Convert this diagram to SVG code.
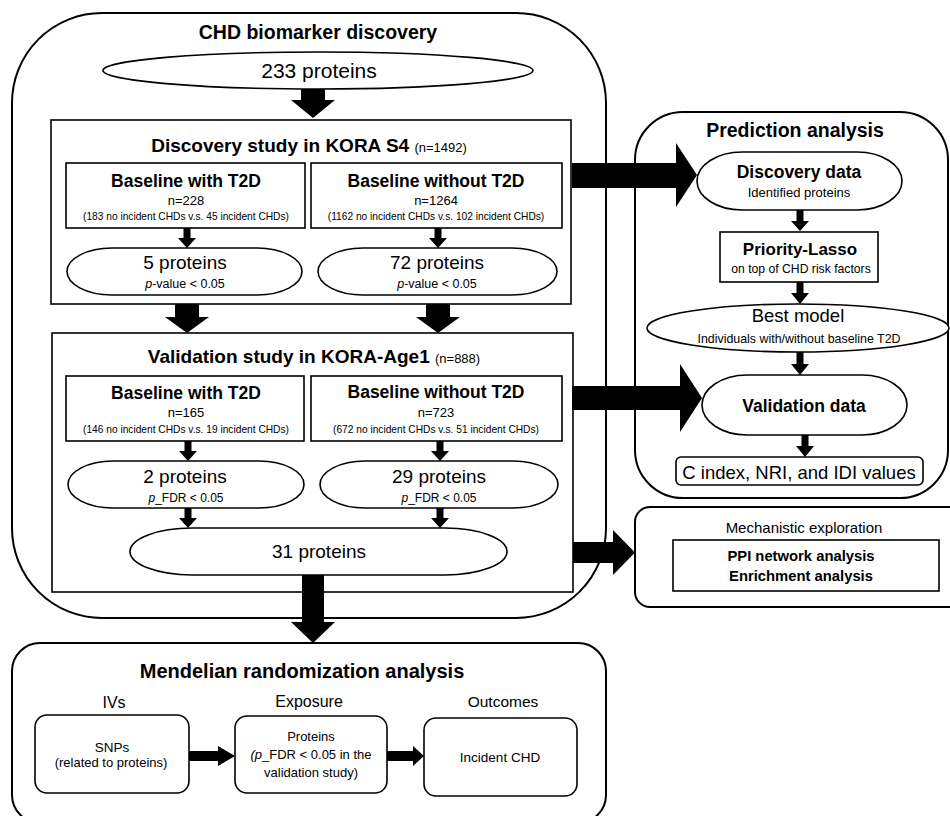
<svg xmlns="http://www.w3.org/2000/svg" width="950" height="816" viewBox="0 0 950 816">
<style>
text{font-family:"Liberation Sans",Arial,sans-serif;fill:#000;text-anchor:middle}
.b{font-weight:bold}
.it{font-style:italic}
.frame{fill:#fff;stroke:#000;stroke-width:2}
.box{fill:#fff;stroke:#000;stroke-width:1.6}
.arr{fill:#000;stroke:none}
</style>
<rect width="950" height="816" fill="#fff"/>

<g id="chd-discovery">
<rect class="frame" x="12" y="13" width="594" height="605" rx="90" ry="90"/>
<text class="b" x="318" y="39" font-size="19.5">CHD biomarker discovery</text>
</g>
<g id="proteins-233">
<ellipse class="box" cx="318" cy="70.5" rx="215" ry="18.5"/>
<text x="319" y="77.5" font-size="21">233 proteins</text>
</g>
<g id="discovery-study">
<rect class="box" x="51" y="120" width="520" height="184"/>
<text x="309" y="152"><tspan class="b" font-size="19">Discovery study in KORA S4 </tspan><tspan font-size="13">(n=1492)</tspan></text>
</g>
<g id="disc-with-t2d">
<rect class="box" x="66" y="163" width="239" height="65"/>
<text class="b" x="186" y="187" font-size="17.5">Baseline with T2D</text>
<text x="186" y="204.5" font-size="13">n=228</text>
<text x="186" y="220" font-size="10.2">(183 no incident CHDs v.s. 45 incident CHDs)</text>
</g>
<g id="disc-without-t2d">
<rect class="box" x="311" y="163" width="251" height="65"/>
<text class="b" x="436" y="187" font-size="17.5">Baseline without T2D</text>
<text x="436" y="204.5" font-size="13">n=1264</text>
<text x="436" y="220" font-size="10.2">(1162 no incident CHDs v.s. 102 incident CHDs)</text>
</g>
<g id="disc-5-proteins">
<rect class="box" x="67" y="248" width="235" height="47" rx="45" ry="23.5"/>
<text x="185" y="269" font-size="19">5 proteins</text>
<text x="185" y="288" font-size="12.5"><tspan class="it">p</tspan>-value &lt; 0.05</text>
</g>
<g id="disc-72-proteins">
<rect class="box" x="318" y="248" width="239" height="47" rx="45" ry="23.5"/>
<text x="437" y="269" font-size="19">72 proteins</text>
<text x="437" y="288" font-size="12.5"><tspan class="it">p</tspan>-value &lt; 0.05</text>
</g>
<g id="validation-study">
<rect class="box" x="52" y="333" width="521" height="259"/>
<text x="314" y="363"><tspan class="b" font-size="19">Validation study in KORA-Age1 </tspan><tspan font-size="13">(n=888)</tspan></text>
</g>
<g id="val-with-t2d">
<rect class="box" x="66" y="376" width="238" height="65"/>
<text class="b" x="186" y="399" font-size="17.5">Baseline with T2D</text>
<text x="186" y="417" font-size="13">n=165</text>
<text x="186" y="432.5" font-size="10.2">(146 no incident CHDs v.s. 19 incident CHDs)</text>
</g>
<g id="val-without-t2d">
<rect class="box" x="311" y="376" width="251" height="65"/>
<text class="b" x="436" y="398" font-size="17.5">Baseline without T2D</text>
<text x="436" y="417" font-size="13">n=723</text>
<text x="436" y="433" font-size="10.2">(672 no incident CHDs v.s. 51 incident CHDs)</text>
</g>
<g id="val-2-proteins">
<rect class="box" x="68" y="461" width="236" height="47" rx="45" ry="23.5"/>
<text x="185" y="483" font-size="19">2 proteins</text>
<text x="186" y="502" font-size="12"><tspan class="it">p</tspan>_FDR &lt; 0.05</text>
</g>
<g id="val-29-proteins">
<rect class="box" x="320" y="461" width="238" height="47" rx="45" ry="23.5"/>
<text x="439" y="483" font-size="19">29 proteins</text>
<text x="439" y="502" font-size="12"><tspan class="it">p</tspan>_FDR &lt; 0.05</text>
</g>
<g id="val-31-proteins">
<rect class="box" x="130" y="528" width="377" height="47" rx="62" ry="23.5"/>
<text x="319" y="558" font-size="19">31 proteins</text>
</g>

<g id="prediction-analysis">
<rect class="frame" x="635" y="112" width="313" height="386" rx="48" ry="48"/>
<text class="b" x="795" y="137" font-size="19.5">Prediction analysis</text>
</g>
<g id="discovery-data">
<rect class="box" x="697" y="152" width="205" height="58" rx="45" ry="29"/>
<text class="b" x="799" y="178" font-size="17.5">Discovery data</text>
<text x="799" y="197" font-size="13">Identified proteins</text>
</g>
<g id="priority-lasso">
<rect class="box" x="720" y="232" width="158" height="50"/>
<text class="b" x="800" y="255" font-size="17">Priority-Lasso</text>
<text x="801" y="273" font-size="12.2">on top of CHD risk factors</text>
</g>
<g id="best-model">
<ellipse class="box" cx="798" cy="328" rx="151" ry="24"/>
<text x="798" y="322" font-size="18.5">Best model</text>
<text x="799" y="343" font-size="12.4">Individuals with/without baseline T2D</text>
</g>
<g id="validation-data">
<rect class="box" x="702" y="375" width="205" height="60" rx="45" ry="30"/>
<text class="b" x="804" y="412" font-size="17.5">Validation data</text>
</g>
<g id="c-index">
<rect class="box" x="676" y="457" width="247" height="28" rx="5" ry="5"/>
<text x="799" y="478.5" font-size="18.5">C index, NRI, and IDI values</text>
</g>

<g id="mechanistic-exploration">
<rect class="frame" x="635" y="507" width="330" height="100" rx="15" ry="15"/>
<text x="804" y="533" font-size="15">Mechanistic exploration</text>
</g>
<g id="ppi-enrichment">
<rect class="box" x="673" y="540" width="266" height="51"/>
<text class="b" x="801" y="561" font-size="14.8">PPI network analysis</text>
<text class="b" x="801" y="581" font-size="14.8">Enrichment analysis</text>
</g>

<g id="mendelian-randomization">
<rect class="frame" x="12" y="643" width="594" height="180" rx="28" ry="28"/>
<text class="b" x="302" y="678" font-size="20">Mendelian randomization analysis</text>
<text x="114" y="708" font-size="16">IVs</text>
<text x="309" y="707" font-size="16">Exposure</text>
<text x="503" y="707" font-size="15.5">Outcomes</text>
</g>
<g id="snps">
<rect class="box" x="35" y="715" width="154" height="78" rx="12" ry="12"/>
<text x="112" y="752" font-size="13.5">SNPs</text>
<text x="111" y="767" font-size="13">(related to proteins)</text>
</g>
<g id="exposure-proteins">
<rect class="box" x="235" y="716" width="152" height="77" rx="12" ry="12"/>
<text x="311" y="741" font-size="13">Proteins</text>
<text x="311" y="759" font-size="13"><tspan class="it">(p</tspan>_FDR &lt; 0.05 in the</text>
<text x="311" y="777" font-size="13">validation study)</text>
</g>
<g id="incident-chd">
<rect class="box" x="424" y="718" width="153" height="78" rx="12" ry="12"/>
<text x="500" y="762" font-size="13.5">Incident CHD</text>
</g>

<g id="connectors">
<polygon class="arr" points="301,89 325,89 325,100 335,100 313,118 291,100 301,100"/>
<polygon class="arr" points="183.5,228 190.5,228 190.5,238 196,238 187,248 178,238 183.5,238"/>
<polygon class="arr" points="434.5,228 441.5,228 441.5,238 447,238 438,248 429,238 434.5,238"/>
<polygon class="arr" points="175,304 199,304 199,317 209,317 187,333 165,317 175,317"/>
<polygon class="arr" points="426,304 450,304 450,317 460,317 438,333 416,317 426,317"/>
<polygon class="arr" points="184.5,441 191.5,441 191.5,451 197,451 188,461 179,451 184.5,451"/>
<polygon class="arr" points="436.5,441 443.5,441 443.5,451 449,451 440,461 431,451 436.5,451"/>
<polygon class="arr" points="184.5,508 191.5,508 191.5,518 197,518 188,528 179,518 184.5,518"/>
<polygon class="arr" points="436.5,508 443.5,508 443.5,518 449,518 440,528 431,518 436.5,518"/>
<polygon class="arr" points="302,575 324,575 324,622 335,622 313,643 291,622 302,622"/>
<polygon class="arr" points="572,163 676,163 676,143 697,175 676,207 676,188 572,188"/>
<polygon class="arr" points="572,386 680,386 680,364 702,398 680,432 680,410 572,410"/>
<polygon class="arr" points="573,542 613,542 613,530 635,552.5 613,575 613,563 573,563"/>
<polygon class="arr" points="796.5,210 803.5,210 803.5,221 809,221 800,231 791,221 796.5,221"/>
<polygon class="arr" points="796.5,282 803.5,282 803.5,293 809,293 800,304 791,293 796.5,293"/>
<polygon class="arr" points="796.5,352 803.5,352 803.5,364 809,364 800,375 791,364 796.5,364"/>
<polygon class="arr" points="801.5,435 808.5,435 808.5,446 814,446 805,457 796,446 801.5,446"/>
<polygon class="arr" points="189,751 218,751 218,746 235,756 218,766 218,761 189,761"/>
<polygon class="arr" points="387,751 413,751 413,746 424,756 413,766 413,761 387,761"/>
</g>
</svg>
